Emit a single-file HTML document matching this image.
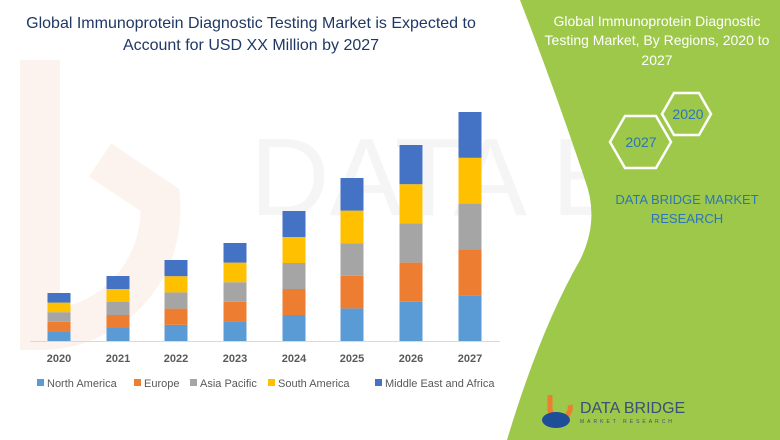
<!DOCTYPE html>
<html><head><meta charset="utf-8"><style>
body{margin:0;width:780px;height:440px;overflow:hidden;background:#fff;font-family:"Liberation Sans",sans-serif;}
</style></head><body>
<svg width="780" height="440" viewBox="0 0 780 440" xmlns="http://www.w3.org/2000/svg" style="position:absolute;left:0;top:0">
<text x="250" y="215" font-size="110" fill="#f5f5f5" font-family="Liberation Sans">DATA BRIDGE</text>
<path d="M40 60 L40 330 A120 120 0 0 0 160 200 L100 160" fill="none" stroke="#fcf3ee" stroke-width="40"/>
<path d="M520 0 L780 0 L780 440 L507 440 Q540 330 580 260 Q600 220 585 180 Q555 90 520 0 Z" fill="#9dc84a"/>
<g font-size="16" fill="#1f3864" text-anchor="middle">
<text x="251" y="28">Global Immunoprotein Diagnostic Testing Market is Expected to</text>
<text x="251" y="50">Account for USD XX Million by 2027</text>
</g>
<g font-size="14" fill="#fff" text-anchor="middle">
<text x="657" y="26">Global Immunoprotein Diagnostic</text>
<text x="657" y="45">Testing Market, By Regions, 2020 to</text>
<text x="657" y="65">2027</text>
</g>
<polygon points="662,114 674,93 699,93 711,114 699,135 674,135" fill="none" stroke="#fff" stroke-width="2.5"/>
<polygon points="610,142 625,116 656,116 671,142 656,168 625,168" fill="none" stroke="#fff" stroke-width="2.5"/>
<text x="688" y="119" font-size="14" fill="#2e75b6" text-anchor="middle">2020</text>
<text x="641" y="147" font-size="14" fill="#2e75b6" text-anchor="middle">2027</text>
<g font-size="13" fill="#2e75b6" text-anchor="middle">
<text x="687" y="204">DATA BRIDGE MARKET</text>
<text x="687" y="223">RESEARCH</text>
</g>
<path d="M550 395 L550 410 A10 10 0 0 0 570 405" fill="none" stroke="#ed7d31" stroke-width="5"/>
<ellipse cx="556" cy="420" rx="14" ry="8" fill="#1f4e99"/>
<text x="580" y="413" font-size="16" fill="#3a4f7a">DATA BRIDGE</text>
<text x="580" y="423" font-size="5" fill="#3a4f7a" letter-spacing="3">MARKET RESEARCH</text>
<line x1="30" y1="341.5" x2="500" y2="341.5" stroke="#d9d9d9" stroke-width="1"/>
<g font-size="11" font-weight="bold" fill="#595959" text-anchor="middle">
<text x="59" y="362">2020</text><text x="118" y="362">2021</text><text x="176" y="362">2022</text><text x="235" y="362">2023</text><text x="294" y="362">2024</text><text x="352" y="362">2025</text><text x="411" y="362">2026</text><text x="470" y="362">2027</text>
</g>
<g font-size="11" fill="#595959">
<rect x="37" y="379" width="7" height="7" fill="#5b9bd5"/><text x="47" y="387">North America</text>
<rect x="134" y="379" width="7" height="7" fill="#ed7d31"/><text x="144" y="387">Europe</text>
<rect x="190" y="379" width="7" height="7" fill="#a5a5a5"/><text x="200" y="387">Asia Pacific</text>
<rect x="268" y="379" width="7" height="7" fill="#ffc000"/><text x="278" y="387">South America</text>
<rect x="375" y="379" width="7" height="7" fill="#4472c4"/><text x="385" y="387">Middle East and Africa</text>
</g>
<g>
<rect x="47.5" y="331.4" width="23" height="9.6" fill="#5b9bd5"/><rect x="47.5" y="321.8" width="23" height="9.6" fill="#ed7d31"/><rect x="47.5" y="312.2" width="23" height="9.6" fill="#a5a5a5"/><rect x="47.5" y="302.6" width="23" height="9.6" fill="#ffc000"/><rect x="47.5" y="293" width="23" height="9.6" fill="#4472c4"/>
<rect x="106.5" y="328" width="23" height="13" fill="#5b9bd5"/><rect x="106.5" y="315" width="23" height="13" fill="#ed7d31"/><rect x="106.5" y="302" width="23" height="13" fill="#a5a5a5"/><rect x="106.5" y="289" width="23" height="13" fill="#ffc000"/><rect x="106.5" y="276" width="23" height="13" fill="#4472c4"/>
<rect x="164.5" y="324.8" width="23" height="16.2" fill="#5b9bd5"/><rect x="164.5" y="308.6" width="23" height="16.2" fill="#ed7d31"/><rect x="164.5" y="292.4" width="23" height="16.2" fill="#a5a5a5"/><rect x="164.5" y="276.2" width="23" height="16.2" fill="#ffc000"/><rect x="164.5" y="260" width="23" height="16.2" fill="#4472c4"/>
<rect x="223.5" y="321.4" width="23" height="19.6" fill="#5b9bd5"/><rect x="223.5" y="301.8" width="23" height="19.6" fill="#ed7d31"/><rect x="223.5" y="282.2" width="23" height="19.6" fill="#a5a5a5"/><rect x="223.5" y="262.6" width="23" height="19.6" fill="#ffc000"/><rect x="223.5" y="243" width="23" height="19.6" fill="#4472c4"/>
<rect x="282.5" y="315" width="23" height="26" fill="#5b9bd5"/><rect x="282.5" y="289" width="23" height="26" fill="#ed7d31"/><rect x="282.5" y="263" width="23" height="26" fill="#a5a5a5"/><rect x="282.5" y="237" width="23" height="26" fill="#ffc000"/><rect x="282.5" y="211" width="23" height="26" fill="#4472c4"/>
<rect x="340.5" y="308.4" width="23" height="32.6" fill="#5b9bd5"/><rect x="340.5" y="275.8" width="23" height="32.6" fill="#ed7d31"/><rect x="340.5" y="243.2" width="23" height="32.6" fill="#a5a5a5"/><rect x="340.5" y="210.6" width="23" height="32.6" fill="#ffc000"/><rect x="340.5" y="178" width="23" height="32.6" fill="#4472c4"/>
<rect x="399.5" y="301.8" width="23" height="39.2" fill="#5b9bd5"/><rect x="399.5" y="262.6" width="23" height="39.2" fill="#ed7d31"/><rect x="399.5" y="223.4" width="23" height="39.2" fill="#a5a5a5"/><rect x="399.5" y="184.2" width="23" height="39.2" fill="#ffc000"/><rect x="399.5" y="145" width="23" height="39.2" fill="#4472c4"/>
<rect x="458.5" y="295.2" width="23" height="45.8" fill="#5b9bd5"/><rect x="458.5" y="249.4" width="23" height="45.8" fill="#ed7d31"/><rect x="458.5" y="203.6" width="23" height="45.8" fill="#a5a5a5"/><rect x="458.5" y="157.8" width="23" height="45.8" fill="#ffc000"/><rect x="458.5" y="112" width="23" height="45.8" fill="#4472c4"/>
</g>
</svg>
</body></html>
